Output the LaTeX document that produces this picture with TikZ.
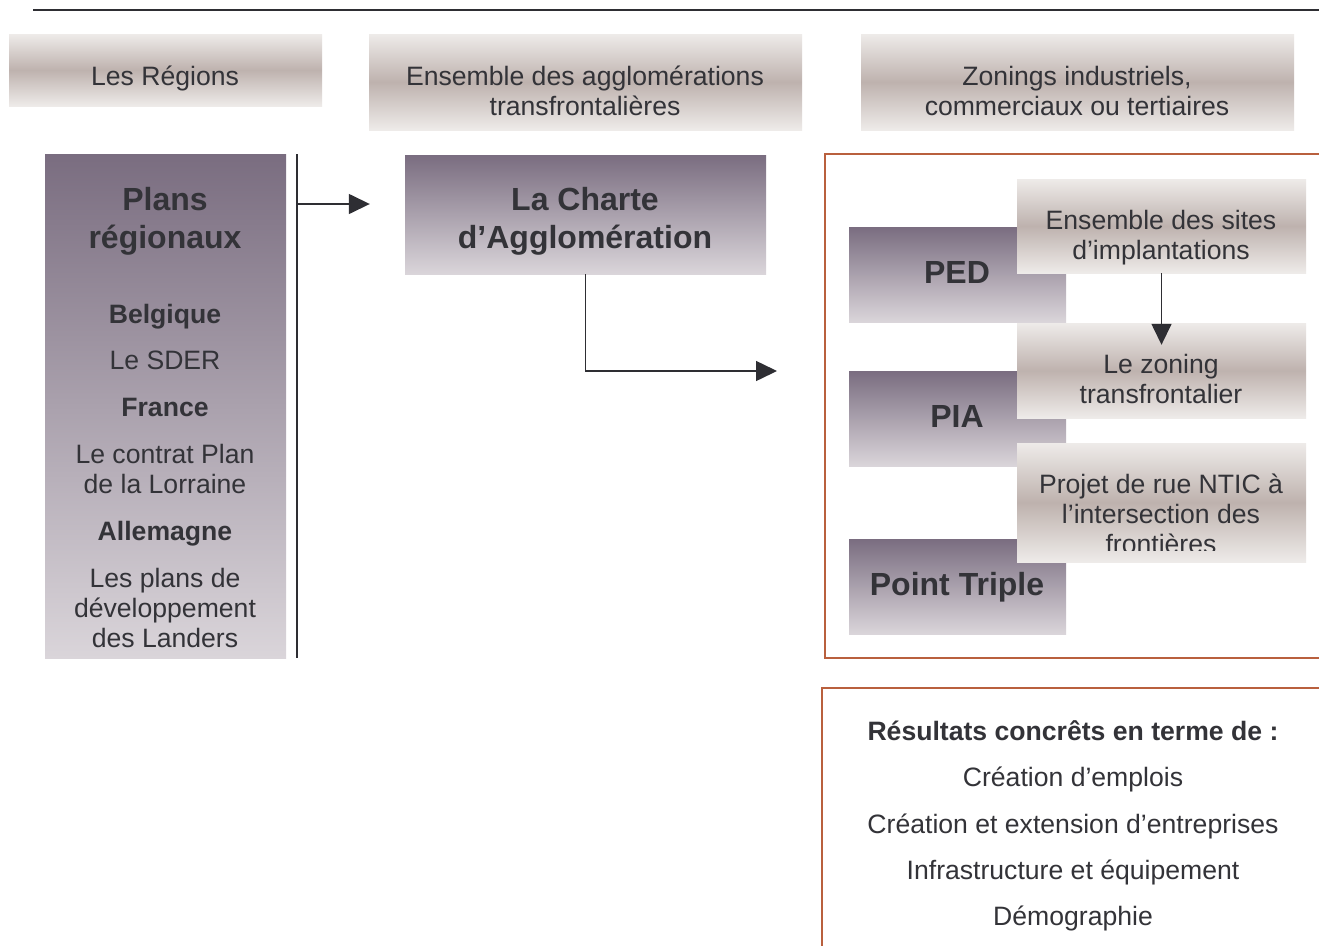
\documentclass[tikz,border=0pt]{standalone}
\usepackage{fontspec}
\setmainfont{Liberation Sans}
\usetikzlibrary{arrows.meta}
\usepackage{xcolor}
\definecolor{encre}{HTML}{333338}
\definecolor{trait}{HTML}{2E2E33}
\definecolor{mauve}{HTML}{7A6D80}
\definecolor{mauvepale}{HTML}{DAD5DA}
\definecolor{sable}{HTML}{EEEBE9}
\definecolor{sablefonce}{HTML}{BEB2AE}
\definecolor{brique}{HTML}{B9603E}

\begin{document}
\begin{tikzpicture}[x=1pt, y=-1pt,
    texte/.style={text=encre, anchor=base, inner sep=0pt, font=\fontsize{26.6}{30}\selectfont},
    gras/.style={texte, font=\fontsize{26.6}{30}\selectfont\bfseries},
    grand/.style={texte, font=\fontsize{32}{38}\selectfont\bfseries},
    bandeau/.style={top color=sable, bottom color=sable, middle color=sablefonce, inner sep=0pt},
    pave/.style={top color=mauve, bottom color=mauvepale, inner sep=0pt},
    fleche/.style={draw=trait, line width=1.5pt, -{Triangle[length=21pt, width=20pt]}}]
            \clip (0,0) rectangle (1319,945);
            \fill[white] (0,0) rectangle (1319,945);
            \draw[trait, line width=1.8pt] (33,10) -- (1319,10);
            % bandeaux du haut et cases claires
            \foreach \nom/\xa/\ya/\xb/\yb in {hRegions/9/34/322/106, hAgglo/369/34/802/130,
                hZonings/861/34/1294/130}
            {
                \node[bandeau, minimum width={(\xb-\xa)*1pt}, minimum height={(\yb-\ya)*1pt}]
                    (\nom) at ({(\xa+\xb)/2},{(\ya+\yb)/2}) {};
            }
            % paves mauves
            \foreach \nom/\xa/\ya/\xb/\yb in {plans/45/154/286/658, charte/405/155/766/274,
                ped/849/227/1066/322, pia/849/371/1066/466, triple/849/539/1066/634}
            {
                \node[pave, minimum width={(\xb-\xa)*1pt}, minimum height={(\yb-\ya)*1pt}]
                    (\nom) at ({(\xa+\xb)/2},{(\ya+\yb)/2}) {};
            }
            \foreach \nom/\xa/\ya/\xb/\yb in {sites/1017/179/1306/273, zoning/1017/323/1306/418,
                ntic/1017/443/1306/562}
            {
                \node[bandeau, minimum width={(\xb-\xa)*1pt}, minimum height={(\yb-\ya)*1pt}]
                    (\nom) at ({(\xa+\xb)/2},{(\ya+\yb)/2}) {};
            }
            \draw[brique, line width=2pt] (825,154) rectangle (1340,658);
            \draw[brique, line width=2pt] (822,688) rectangle (1340,960);
            % liaisons
            \draw[trait, line width=1.5pt] (297,154) coordinate (barre) -- (297,658);
            \coordinate (depart) at (297,204);
            \draw[fleche] (depart) -- ([xshift=-35pt]charte.west |- depart);
            \coordinate (versZone) at (777,371);
            \draw[fleche] (charte.south) |- (versZone);
            \draw[fleche] (sites.south) -- ([yshift=-22pt]zoning.north);
            % textes
            \foreach \x/\y/\t in {165/210/Plans, 165/248/régionaux, 585/210/La Charte,
                585/248/d’Agglomération, 957/283/PED, 957/427/PIA, 957/595/Point Triple}
            {
                \node[grand] (g-\x-\y) at (\x,\y) {\t};
            }
            \foreach \x/\y/\t in {165/323/Belgique, 165/416/France, 165/540/Allemagne,
                1073/740/Résultats concrêts en terme de :}
            {
                \node[gras] (b-\x-\y) at (\x,\y) {\t};
            }
            \foreach \x/\y/\t in {165/85/Les Régions, 585/85/Ensemble des agglomérations,
                585/115/transfrontalières, 1077/85/{Zonings industriels,},
                1077/115/commerciaux ou tertiaires, 165/369/Le SDER, 165/463/Le contrat Plan,
                165/493/de la Lorraine, 165/587/Les plans de, 165/617/développement,
                165/647/des Landers, 1161/229/Ensemble des sites, 1161/259/d’implantations,
                1161/373/Le zoning, 1161/403/transfrontalier, 1161/493/Projet de rue NTIC à,
                1161/523/l’intersection des, 1073/786/Création d’emplois,
                1073/833/Création et extension d’entreprises, 1073/879/Infrastructure et équipement,
                1073/925/Démographie}
            {
                \node[texte] (t-\x-\y) at (\x,\y) {\t};
            }
            \begin{scope}
                \clip (1017,443) rectangle (1306,550);
                \node[texte] (t-frontieres) at (1161,553) {frontières};
            \end{scope}
\end{tikzpicture}
\end{document}
